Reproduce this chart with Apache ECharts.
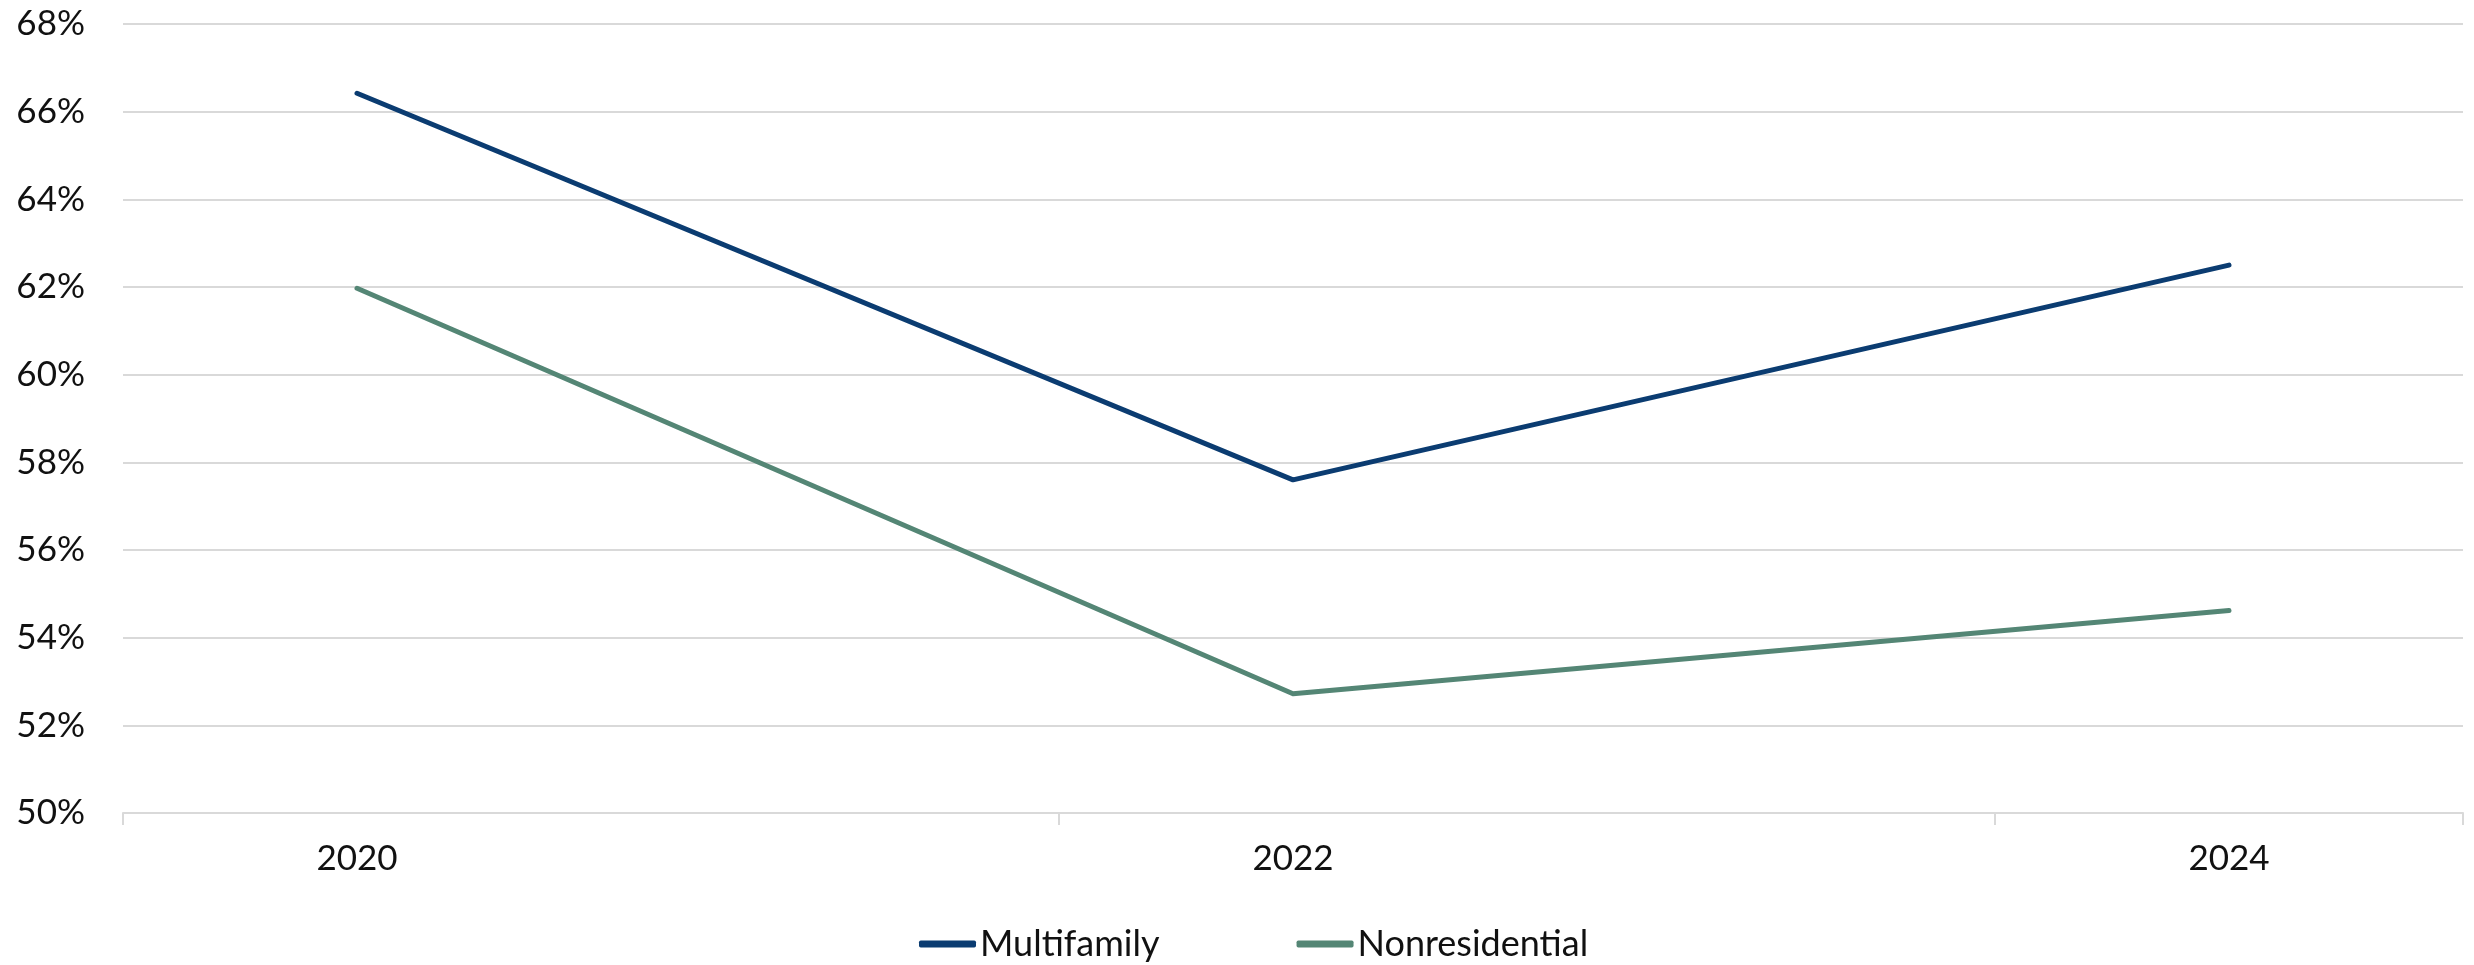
<!DOCTYPE html>
<html>
<head>
<meta charset="utf-8">
<style>
  html, body { margin: 0; padding: 0; background: #ffffff; }
  #chart { width: 2474px; height: 965px; }
</style>
<script src="https://cdn.jsdelivr.net/npm/echarts@6/dist/echarts.min.js"></script>
</head>
<body>
<div id="chart"></div>
<script>
// Years on the category axis (surveys every other year; odd years left empty)
const years = ['2020', '2021', '2022', '2023', '2024'];
// Share of respondents, percent
const multifamily = [66.42, null, 57.6, null, 62.5];
const nonresidential = [61.97, null, 52.72, null, 54.62];
// Value axis range and step, percent
const yMin = 50;
const yMax = 68;
const yStep = 2;

const seriesNames = ['Multifamily', 'Nonresidential'];
const seriesColors = ['#0b3c71', '#548675'];
const font = 'Lato, "Open Sans", sans-serif';

const chart = echarts.init(document.getElementById('chart'), null, { renderer: 'canvas' });

chart.setOption({
  animation: false,
  backgroundColor: '#ffffff',
  grid: { left: 123, right: 11, top: 24, bottom: 152, containLabel: false },
  legend: {
    left: 914,
    top: 921,
    itemWidth: 57,
    itemHeight: 7,
    itemGap: 137,
    icon: 'roundRect',
    textStyle: {
      fontFamily: '"Liberation Sans Narrow", ' + font,
      fontSize: 36,
      color: '#111111',
      padding: [0, 0, 0, -1]
    },
    data: seriesNames
  },
  xAxis: {
    type: 'category',
    data: years,
    boundaryGap: true,
    axisLine: { show: true, lineStyle: { color: '#d9d9d9', width: 2 } },
    axisTick: { show: true, interval: 1, length: 12, lineStyle: { color: '#d9d9d9', width: 2 } },
    axisLabel: { interval: 1, margin: 28, fontFamily: font, fontSize: 35, color: '#111111' },
    splitLine: { show: false }
  },
  yAxis: {
    type: 'value',
    min: yMin,
    max: yMax,
    interval: yStep,
    axisLine: { show: false },
    axisTick: { show: false },
    axisLabel: { formatter: '{value}%', margin: 38, fontFamily: font, fontSize: 35, color: '#111111' },
    splitLine: { show: true, lineStyle: { color: '#d9d9d9', width: 2 } }
  },
  series: [
    {
      name: seriesNames[0],
      type: 'line',
      data: multifamily,
      connectNulls: true,
      symbol: 'none',
      color: seriesColors[0],
      lineStyle: { width: 5, color: seriesColors[0], cap: 'round', join: 'round' }
    },
    {
      name: seriesNames[1],
      type: 'line',
      data: nonresidential,
      connectNulls: true,
      symbol: 'none',
      color: seriesColors[1],
      lineStyle: { width: 5, color: seriesColors[1], cap: 'round', join: 'round' }
    }
  ]
});
</script>
</body>
</html>
